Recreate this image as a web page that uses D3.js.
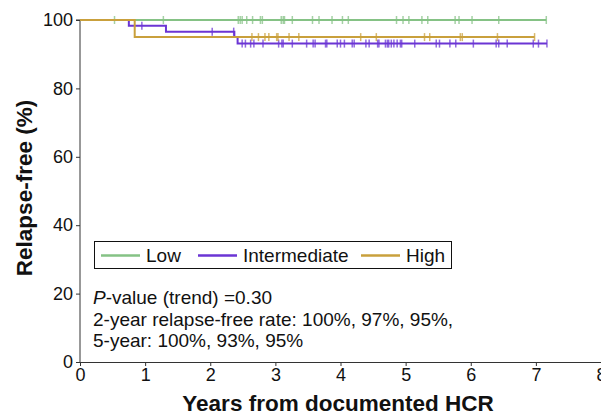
<!DOCTYPE html>
<html>
<head>
<meta charset="utf-8">
<script src="https://cdn.jsdelivr.net/npm/d3@7"></script>
<style>
  html, body { margin: 0; padding: 0; background: #fff; }
  svg { display: block; font-family: Arial, "Liberation Sans", sans-serif; }
</style>
</head>
<body>
<svg id="chart" width="601" height="415"></svg>
<script>
// groups, drawn in this order (last on top)
const groups = ['Low', 'Intermediate', 'High'];
const groupColors = ['#85c285', '#6b35d4', '#c9a03c'];

// event times (years) and survival (%) after each event
const lowEvents = [];
const intEvents = [[0.75, 98.3], [1.32, 96.6], [2.37, 95.0], [2.42, 93.1]];
const highEvents = [[0.84, 95.0]];

// censor times (years)
const lowCensor = [0.53, 1.28, 2.43, 2.46, 2.49, 2.56, 2.65, 2.77, 2.80, 3.09, 3.12, 3.14,
  3.26, 3.57, 3.67, 3.87, 4.03, 4.12, 4.86, 4.96, 5.05, 5.25, 5.34, 5.76, 5.82, 6.02,
  6.43, 7.16];
const intCensor = [0.95, 2.03, 2.36, 2.49, 2.54, 2.62, 2.67, 2.81, 3.05, 3.10, 3.12, 3.26,
  3.48, 3.58, 3.61, 3.77, 3.79, 3.95, 4.00, 4.06, 4.18, 4.21, 4.39, 4.44, 4.57, 4.59,
  4.69, 4.72, 4.74, 4.78, 4.82, 4.87, 4.92, 4.94, 5.14, 5.47, 5.52, 5.68, 5.77, 6.04,
  6.39, 6.43, 6.56, 6.96, 7.04, 7.17];
const highCensor = [2.64, 2.74, 2.84, 2.90, 3.02, 3.04, 3.21, 3.36, 4.31, 4.55, 5.29, 5.37,
  5.84, 5.87, 6.41, 6.98];

const xTicks = [0, 1, 2, 3, 4, 5, 6, 7, 8];
const yTicks = [0, 20, 40, 60, 80, 100];
const noteLines = [
  ['P', '-value (trend) =0.30'],
  ['', '2-year relapse-free rate: 100%, 97%, 95%,'],
  ['', '5-year: 100%, 93%, 95%']
];

const svg = d3.select('#chart');
const x = d3.scaleLinear().domain([0, 8]).range([80, 601]);
const y = d3.scaleLinear().domain([0, 100]).range([362, 20]);

const events = [lowEvents, intEvents, highEvents];
const censors = [lowCensor, intCensor, highCensor];

function survivalAt(ev, t) {
  let s = 100;
  ev.forEach((e) => { if (e[0] <= t) s = e[1]; });
  return s;
}

// axes
const yAxis = svg.append('g')
  .attr('transform', `translate(${x(0)},0)`)
  .call(d3.axisLeft(y).tickValues(yTicks).tickSize(4).tickPadding(3));
const xAxis = svg.append('g')
  .attr('transform', `translate(0,${y(0)})`)
  .call(d3.axisBottom(x).tickValues(xTicks).tickSize(4).tickPadding(2));
[yAxis, xAxis].forEach((a) => {
  a.selectAll('path, line').attr('stroke', '#333').attr('stroke-width', 1);
  a.selectAll('text').attr('font-size', 18).attr('fill', '#111')
    .attr('font-family', 'Arial, "Liberation Sans", sans-serif');
});
yAxis.select('.domain').attr('d', `M-4,${y(100)}H0V${y(0)}`);

// curves
const line = d3.line().x(d => x(d[0])).y(d => y(d[1])).curve(d3.curveStepAfter);
groups.forEach((g, i) => {
  const ev = events[i];
  const end = d3.max(censors[i]);
  const pts = [[0, 100]].concat(ev, [[end, survivalAt(ev, end)]]);
  svg.append('path')
    .datum(pts)
    .attr('fill', 'none')
    .attr('stroke', groupColors[i])
    .attr('stroke-width', 2)
    .attr('d', line);
  svg.append('g').selectAll('line')
    .data(censors[i])
    .enter()
    .append('line')
    .attr('x1', d => x(d))
    .attr('x2', d => x(d))
    .attr('y1', d => y(survivalAt(ev, d)) - 4)
    .attr('y2', d => y(survivalAt(ev, d)) + 4)
    .attr('stroke', groupColors[i])
    .attr('stroke-opacity', 0.75)
    .attr('stroke-width', 1.5);
});

// legend
const legend = svg.append('g');
legend.append('rect')
  .attr('x', 94.5).attr('y', 241.5).attr('width', 357).attr('height', 27)
  .attr('fill', '#fff').attr('stroke', '#111').attr('stroke-width', 1);
const legendX = [101, 198, 361];
groups.forEach((g, i) => {
  legend.append('line')
    .attr('x1', legendX[i]).attr('x2', legendX[i] + 39)
    .attr('y1', 255.5).attr('y2', 255.5)
    .attr('stroke', groupColors[i]).attr('stroke-width', 2.5);
  legend.append('text')
    .attr('x', legendX[i] + 45).attr('y', 262)
    .attr('font-size', 19).attr('fill', '#111')
    .text(g);
});

// notes
noteLines.forEach((l, i) => {
  const t = svg.append('text')
    .attr('x', 93).attr('y', 304 + i * 21.5)
    .attr('font-size', 19).attr('fill', '#111');
  if (l[0]) t.append('tspan').attr('font-style', 'italic').text(l[0]);
  t.append('tspan').text(l[1]);
});

// axis titles
svg.append('text')
  .attr('x', 338).attr('y', 411)
  .attr('text-anchor', 'middle')
  .attr('font-size', 22.5).attr('font-weight', 'bold').attr('fill', '#111')
  .text('Years from documented HCR');
svg.append('text')
  .attr('transform', 'translate(32,188) rotate(-90)')
  .attr('text-anchor', 'middle')
  .attr('font-size', 22.5).attr('font-weight', 'bold').attr('fill', '#111')
  .text('Relapse-free (%)');
</script>
</body>
</html>
